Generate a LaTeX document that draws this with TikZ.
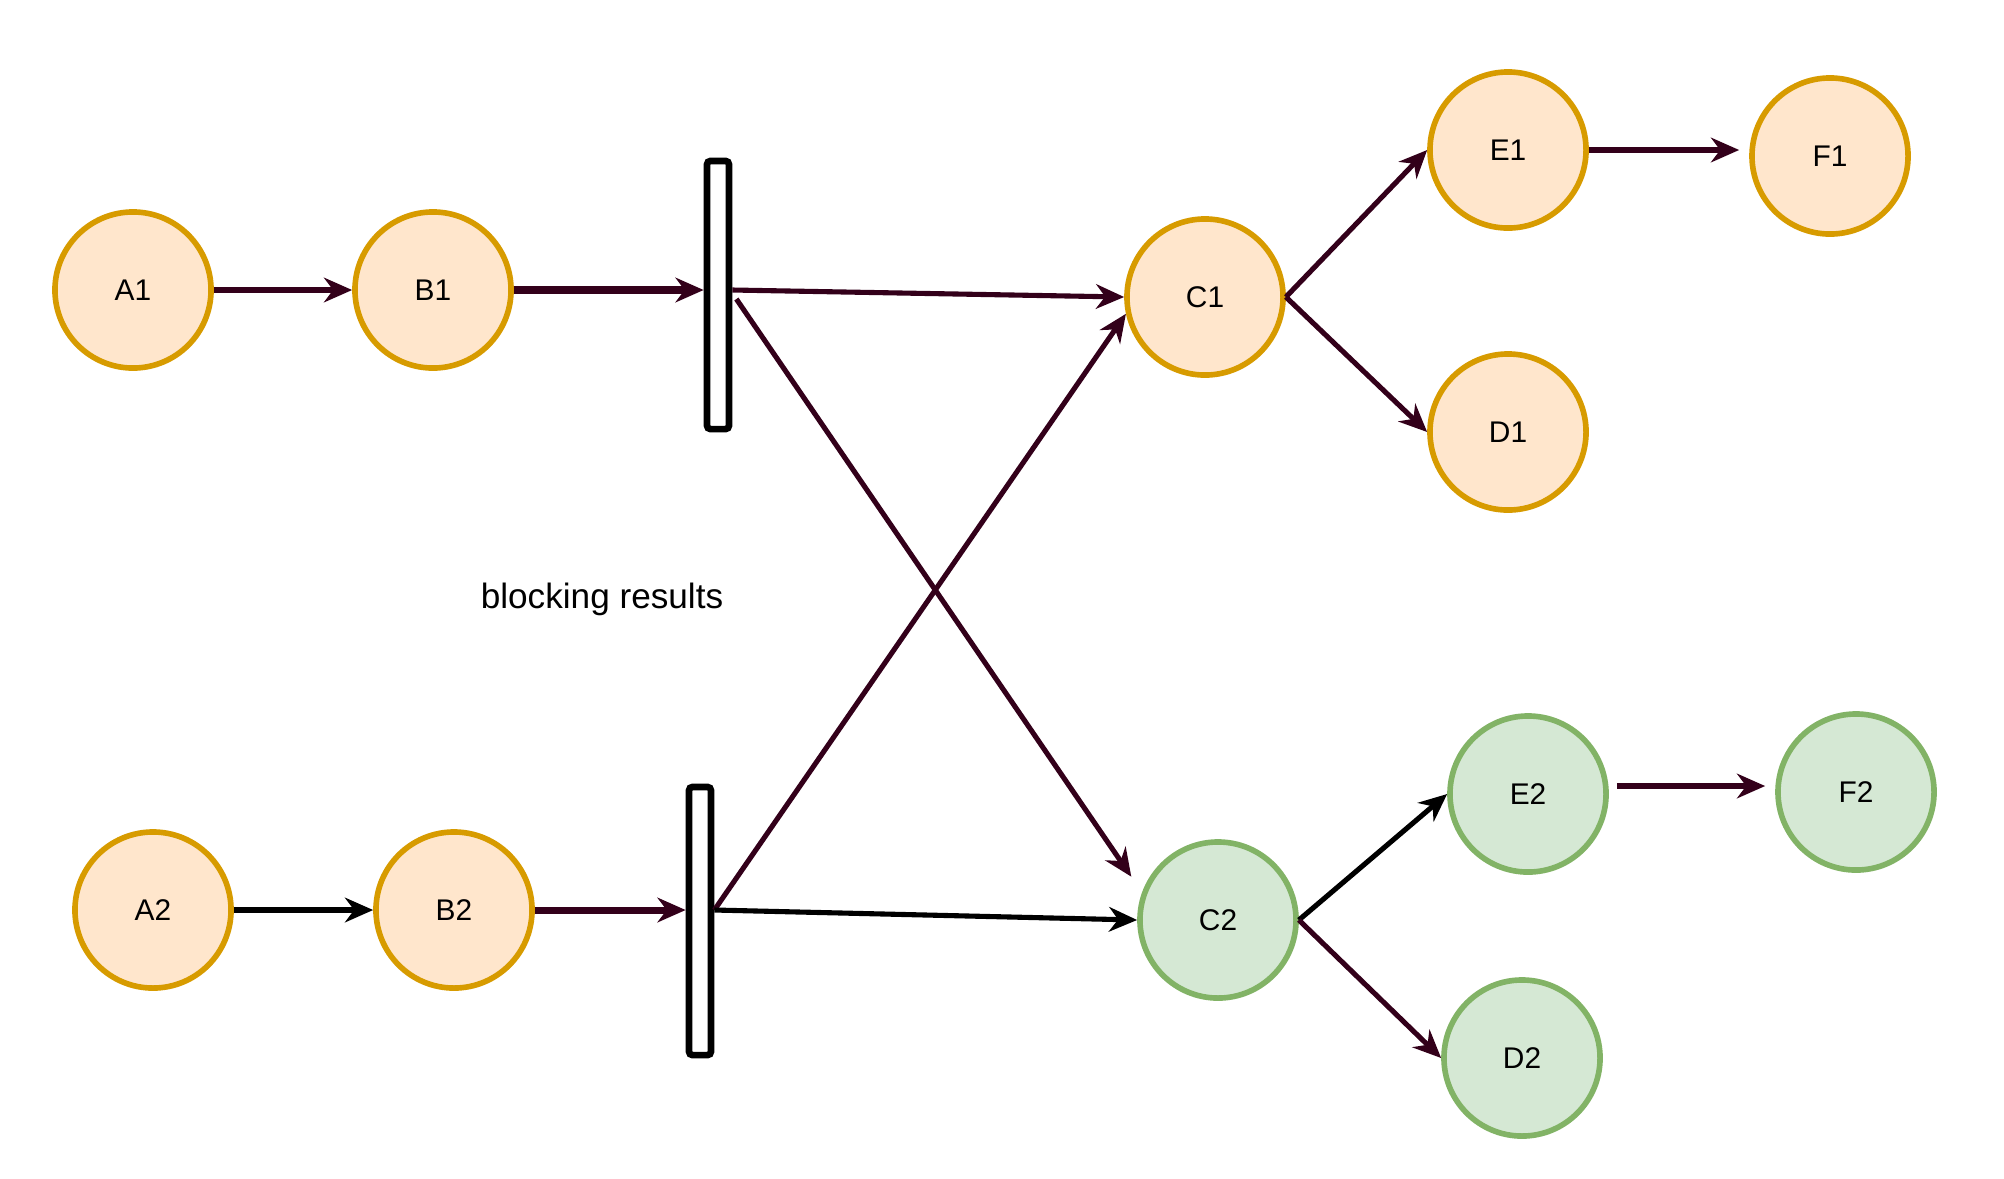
\documentclass[tikz,border=0pt]{standalone}
\usepackage{fontspec}
\setmainfont{Liberation Sans}
\usetikzlibrary{arrows.meta,positioning}
\definecolor{orfill}{HTML}{FFE6CC}
\definecolor{ordraw}{HTML}{D79B00}
\definecolor{grfill}{HTML}{D5E8D4}
\definecolor{grdraw}{HTML}{82B366}
\definecolor{wire}{HTML}{33001A}
\tikzset{>={Stealth[length=8pt,width=7pt,inset=2.6pt]}}

\begin{document}
\begin{tikzpicture}[
    x=0.01cm, y=-0.01cm,
    task/.style={circle, draw=ordraw, fill=orfill, line width=1.6pt, minimum size=1.56cm, inner sep=0pt, font=\fontsize{8.5}{10}\selectfont},
    done/.style={task, draw=grdraw, fill=grfill},
    barrier/.style={draw, line width=1.9pt, rounded corners=1pt, fill=white, minimum width=0.22cm, minimum height=2.68cm, inner sep=0pt},
    link/.style={->, draw=wire, line width=1.45pt},
    blink/.style={->, draw=black, line width=1.45pt}
  ]
    \useasboundingbox (0,0) rectangle (2004,1178);
    % top chain
    \node[task] (A1) at (133,290) {A1};
    \node[task] (B1) at (433,290) {B1};
    \node[barrier] (bar1) at (718,295) {};
    \node[task] (C1) at (1205,297) {C1};
    \node[task] (E1) at (1508,150) {E1};
    \node[task] (F1) at (1830,156) {F1};
    \node[task] (D1) at (1508,432) {D1};
    % bottom chain
    \node[task] (A2) at (153,910) {A2};
    \node[task] (B2) at (454,910) {B2};
    \node[barrier] (bar2) at (700,921) {};
    \node[done] (C2) at (1218,920) {C2};
    \node[done] (E2) at (1528,794) {E2};
    \node[done] (F2) at (1856,792) {F2};
    \node[done] (D2) at (1522,1058) {D2};
    \node[font=\fontsize{10}{12}\selectfont] (note) at (602,599) {blocking results};

    \draw[link] (A1) -- (B1);
    \draw[link, line width=2pt] (B1.east) -- (B1.east -| bar1.west);
    \draw[link] (bar1.east |- B1) -- (C1.west);
    \draw[link, shorten >=0.19cm] ([xshift=0.04cm, yshift=-0.09cm]bar1.east |- B1) -- (C2.160);
    \draw[blink] (A2) -- (B2);
    \draw[link, line width=2pt] (B2.east) -- (B2.east -| bar2.west);
    \draw[link] (bar2.east |- B2) -- (C1.192);
    \draw[blink] (bar2.east |- B2) -- (C2.west);
    \draw[link] (C1.east) -- (E1.west);
    \draw[link] (C1.east) -- (D1.west);
    \draw[link, shorten >=0.1cm] (E1.east) -- (E1.east -| F1.west);
    \draw[blink] (C2.east) -- (E2.west);
    \draw[link] (C2.east) -- (D2.west);
    \draw[link, shorten >=0.1cm, shorten <=0.08cm] ([yshift=0.08cm]E2.east) -- ([yshift=0.08cm]E2.east -| F2.west);
\end{tikzpicture}
\end{document}
